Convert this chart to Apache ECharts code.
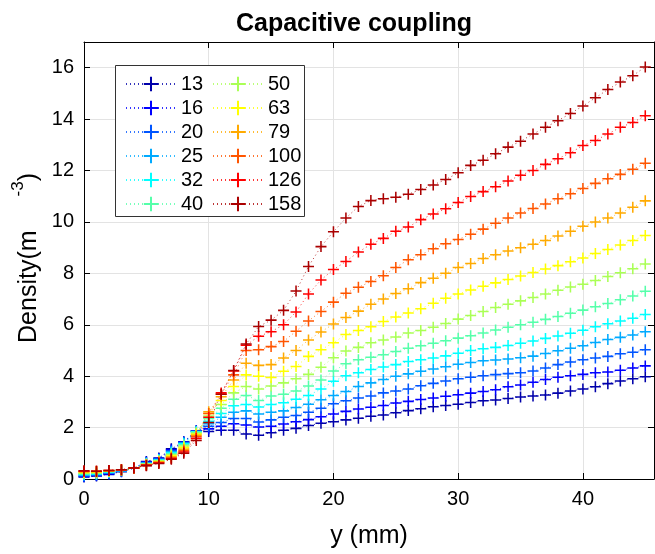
<!DOCTYPE html>
<html><head><meta charset="utf-8">
<script src="https://cdn.jsdelivr.net/npm/echarts@6/dist/echarts.min.js"></script>
<style>html,body{margin:0;padding:0;background:#fff}#c{width:655px;height:554px}</style>
</head><body><div id="c"></div>
<script>
const xs = [0,1,2,3,4,5,6,7,8,9,10,11,12,13,14,15,16,17,18,19,20,21,22,23,24,25,26,27,28,29,30,31,32,33,34,35,36,37,38,39,40,41,42,43,44,45];
const powers = ['13','16','20','25','32','40','50','63','79','100','126','158'];
const colors = ['#0000AA','#0000FF','#0055FF','#00AAFF','#00FFFF','#55FFAA','#AAFF55','#FFFF00','#FFAA00','#FF5500','#FF0000','#AA0000'];
const xTicks = [0,10,20,30,40];
const yTicks = [0,2,4,6,8,10,12,14,16];

const s13 = [0.08,0.12,0.18,0.28,0.42,0.68,0.82,1.18,1.45,1.88,
  1.85,1.9,1.9,1.75,1.7,1.8,1.9,1.97,2.08,2.17,
  2.23,2.3,2.36,2.44,2.49,2.58,2.66,2.73,2.81,2.86,
  2.91,2.98,3.04,3.07,3.13,3.19,3.23,3.27,3.34,3.42,
  3.5,3.59,3.71,3.81,3.9,3.98];
const s16 = [0.1,0.14,0.2,0.3,0.42,0.66,0.8,1.14,1.44,1.87,
  1.95,2.05,2.15,2.1,2.02,2.05,2.14,2.23,2.31,2.42,
  2.53,2.63,2.72,2.79,2.86,2.96,3.02,3.09,3.15,3.22,
  3.28,3.34,3.4,3.47,3.59,3.66,3.76,3.87,3.96,4.02,
  4.07,4.13,4.16,4.23,4.32,4.4];
const s20 = [0.12,0.16,0.22,0.3,0.42,0.64,0.78,1.1,1.42,1.86,
  2.05,2.2,2.35,2.35,2.22,2.3,2.4,2.47,2.6,2.75,
  2.93,3.04,3.15,3.23,3.35,3.42,3.5,3.63,3.72,3.81,
  3.9,3.96,4.02,4.06,4.1,4.13,4.2,4.32,4.45,4.55,
  4.64,4.71,4.77,4.87,4.93,5.03];
const s25 = [0.15,0.18,0.24,0.32,0.42,0.62,0.76,1.06,1.4,1.85,
  2.15,2.4,2.6,2.65,2.53,2.6,2.65,2.78,2.91,3.08,
  3.25,3.4,3.6,3.74,3.87,4.0,4.09,4.19,4.28,4.37,
  4.46,4.53,4.6,4.63,4.67,4.72,4.78,4.88,4.99,5.09,
  5.18,5.31,5.43,5.51,5.6,5.73];
const s32 = [0.18,0.2,0.26,0.33,0.42,0.6,0.74,1.02,1.37,1.84,
  2.25,2.55,2.85,2.9,2.8,2.9,2.97,3.1,3.25,3.5,
  3.8,4.02,4.13,4.26,4.36,4.45,4.57,4.64,4.71,4.79,
  4.89,5.0,5.07,5.12,5.19,5.28,5.37,5.47,5.56,5.67,
  5.79,5.92,6.04,6.15,6.25,6.4];
const s40 = [0.2,0.22,0.28,0.34,0.42,0.58,0.72,0.98,1.33,1.82,
  2.35,2.75,3.1,3.25,3.05,3.23,3.3,3.42,3.62,3.85,
  4.2,4.48,4.64,4.74,4.83,4.96,5.09,5.18,5.28,5.38,
  5.48,5.57,5.68,5.8,5.9,6.0,6.1,6.21,6.32,6.45,
  6.57,6.7,6.83,6.97,7.12,7.3];
const s50 = [0.22,0.24,0.3,0.35,0.42,0.57,0.7,0.94,1.28,1.78,
  2.45,2.9,3.35,3.6,3.5,3.62,3.74,3.9,4.07,4.35,
  4.72,4.98,5.12,5.3,5.41,5.52,5.68,5.78,5.9,6.05,
  6.22,6.36,6.52,6.67,6.8,6.93,7.06,7.2,7.34,7.47,
  7.58,7.72,7.88,8.02,8.18,8.36];
const s63 = [0.25,0.26,0.3,0.35,0.42,0.56,0.68,0.9,1.22,1.74,
  2.55,3.05,3.6,4.05,4.0,3.95,4.19,4.38,4.77,5.03,
  5.3,5.62,5.78,5.92,6.13,6.3,6.46,6.62,6.84,7.03,
  7.2,7.35,7.5,7.63,7.76,7.9,8.03,8.17,8.3,8.45,
  8.6,8.77,8.93,9.1,9.28,9.47];
const s79 = [0.27,0.28,0.32,0.35,0.43,0.55,0.66,0.86,1.16,1.7,
  2.62,3.2,3.85,4.5,4.42,4.45,4.71,5.0,5.41,5.72,
  6.03,6.28,6.53,6.8,7.0,7.22,7.4,7.64,7.81,8.0,
  8.23,8.38,8.58,8.72,8.87,9.0,9.13,9.28,9.45,9.64,
  9.83,10.0,10.15,10.35,10.57,10.82];
const s100 = [0.3,0.3,0.33,0.36,0.43,0.54,0.64,0.82,1.1,1.65,
  2.55,3.3,4.05,5.0,5.03,5.15,5.35,5.75,6.15,6.52,
  6.88,7.23,7.46,7.68,7.91,8.23,8.53,8.72,8.96,9.15,
  9.32,9.52,9.72,9.95,10.15,10.35,10.52,10.7,10.9,11.1,
  11.3,11.5,11.68,11.85,12.05,12.28];
const s126 = [0.3,0.3,0.33,0.36,0.43,0.53,0.62,0.8,1.05,1.58,
  2.4,3.35,4.2,5.2,5.55,5.73,6.0,6.5,7.2,7.74,
  8.15,8.46,8.83,9.13,9.36,9.64,9.8,10.09,10.31,10.51,
  10.76,10.99,11.18,11.37,11.59,11.82,12.0,12.24,12.46,12.69,
  12.97,13.17,13.42,13.68,13.87,14.13];
const s158 = [0.32,0.3,0.33,0.36,0.43,0.52,0.6,0.77,1.0,1.5,
  2.2,3.3,4.22,5.25,5.93,6.18,6.56,7.31,8.27,9.04,
  9.62,10.15,10.6,10.83,10.9,10.96,11.08,11.26,11.44,11.65,
  11.91,12.2,12.4,12.65,12.91,13.14,13.42,13.68,13.94,14.22,
  14.51,14.83,15.15,15.44,15.69,16.03];

const allSeries = [s13,s16,s20,s25,s32,s40,s50,s63,s79,s100,s126,s158];
const FONT = "'Liberation Sans', Arial, Helvetica, sans-serif";
const PLUS = 'path://M4.3,0H5.7V4.3H10V5.7H5.7V10H4.3V5.7H0V4.3H4.3Z';

const X_MAX = 45.7, Y_MAX = 17;

const series = allSeries.map((vals, i) => ({
  name: powers[i],
  type: 'line',
  data: vals.map((v, j) => [xs[j], v]),
  symbol: PLUS,
  symbolSize: 11,
  showAllSymbol: true,
  itemStyle: { color: colors[i] },
  lineStyle: { color: colors[i], width: 1, type: [1, 3], opacity: 0.8 },
  emphasis: { disabled: true },
  animation: false,
  z: 2
}));

const legendCommon = {
  orient: 'vertical',
  itemWidth: 50,
  itemHeight: 18,
  itemGap: 4,
  textStyle: { fontFamily: FONT, fontSize: 20, color: '#000' },
  selectedMode: false,
  z: 5
};

const option = {
  animation: false,
  backgroundColor: '#fff',
  title: {
    text: 'Capacitive coupling',
    left: 349, top: 7,
    textAlign: 'center',
    textStyle: { fontFamily: FONT, fontSize: 25, fontWeight: 'bold', color: '#000' }
  },
  grid: { left: 84, right: 1, top: 42, bottom: 70, containLabel: false },
  xAxis: [{
    type: 'value', min: 0, max: X_MAX, interval: 10,
    name: 'y (mm)', nameLocation: 'middle', nameGap: 45,
    nameTextStyle: { fontFamily: FONT, fontSize: 25, color: '#000' },
    axisLine: { show: true, lineStyle: { color: '#000', width: 1 } },
    axisTick: { show: true, inside: true, length: 6, lineStyle: { color: '#000' } },
    axisLabel: { fontFamily: FONT, fontSize: 20, color: '#000', margin: 10, showMaxLabel: false,
      formatter: v => xTicks.indexOf(v) >= 0 ? String(v) : '' },
    splitLine: { show: true, lineStyle: { color: '#e3e3e3', width: 1 } }
  }, {
    type: 'value', min: 0, max: X_MAX, interval: 10, position: 'top',
    axisLine: { show: true, onZero: false, lineStyle: { color: '#000', width: 1 } },
    axisTick: { show: true, inside: true, length: 6, lineStyle: { color: '#000' } },
    axisLabel: { show: false }, splitLine: { show: false }
  }],
  yAxis: [{
    type: 'value', min: 0, max: Y_MAX, interval: 2,
    axisLine: { show: true, lineStyle: { color: '#000', width: 1 } },
    axisTick: { show: true, inside: true, length: 6, lineStyle: { color: '#000' } },
    axisLabel: { fontFamily: FONT, fontSize: 20, color: '#000', margin: 10, showMaxLabel: false,
      formatter: v => yTicks.indexOf(v) >= 0 ? String(v) : '' },
    splitLine: { show: true, lineStyle: { color: '#e3e3e3', width: 1 } }
  }, {
    type: 'value', min: 0, max: Y_MAX, interval: 2, position: 'right',
    axisLine: { show: true, onZero: false, lineStyle: { color: '#000', width: 1 } },
    axisTick: { show: true, inside: true, length: 6, lineStyle: { color: '#000' } },
    axisLabel: { show: false }, splitLine: { show: false }
  }],
  legend: [
    Object.assign({}, legendCommon, { left: 120, top: 69, data: powers.slice(0, 6) }),
    Object.assign({}, legendCommon, { left: 207, top: 69, data: powers.slice(6) })
  ],
  graphic: [
    { type: 'rect', z: 4, shape: { x: 115.5, y: 65.5, width: 189, height: 151 },
      style: { fill: '#fff', stroke: '#333', lineWidth: 1 } },
    { type: 'text', z: 5, x: 29, y: 258, rotation: Math.PI / 2,
      style: {
        text: '{a|Density(m}{g|}{s|-3}{a|)}',
        align: 'center', verticalAlign: 'middle',
        fill: '#000',
        rich: {
          a: { fontFamily: FONT, fontSize: 25, fill: '#000' },
          g: { width: 34 },
          s: { fontFamily: FONT, fontSize: 17, fill: '#000', padding: [0, 0, 22, 0] }
        }
      } }
  ],
  series: series
};

const chart = echarts.init(document.getElementById('c'), null, { renderer: 'canvas' });
chart.setOption(option);
</script>
</body></html>
